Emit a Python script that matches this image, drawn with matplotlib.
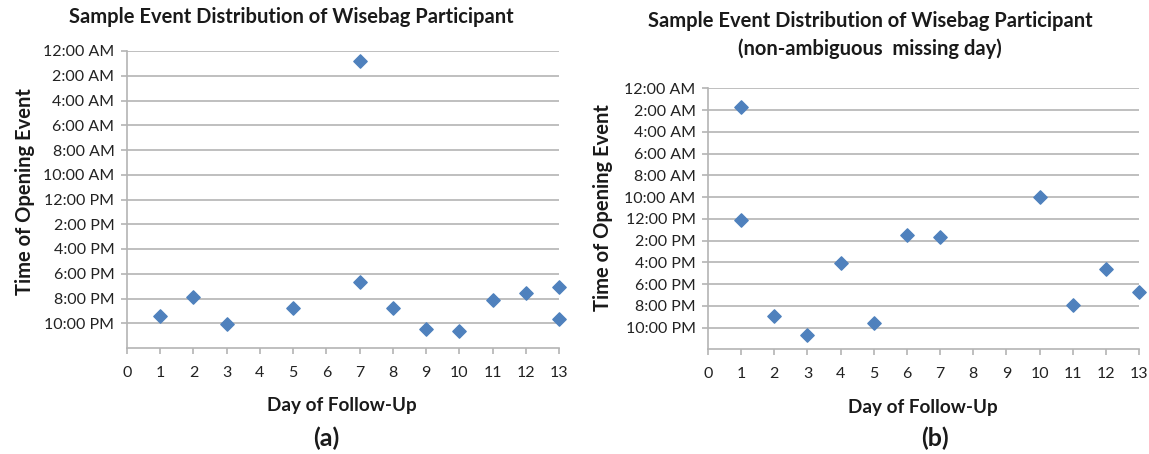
import matplotlib.pyplot as plt

plt.rcParams['font.family'] = ['Lato', 'DejaVu Sans']

# panel (a): day of follow-up and hour of opening event (0 = midnight)
days_a = [1, 2, 3, 5, 7, 7, 8, 9, 10, 11, 12, 13, 13]
hours_a = [21.4, 19.9, 22.1, 20.8, 0.8, 18.7, 20.75, 22.5, 22.6, 20.1, 19.55, 19.1, 21.65]

# panel (b): non-ambiguous missing day
days_b = [1, 1, 2, 3, 4, 5, 6, 7, 10, 11, 12, 13]
hours_b = [1.75, 12.15, 20.9, 22.7, 16.1, 21.6, 13.5, 13.65, 9.95, 19.9, 16.65, 18.75]

hour_ticks = list(range(0, 24, 2))
day_ticks = list(range(0, 14))

title_a = "Sample Event Distribution of Wisebag Participant"
title_b = "Sample Event Distribution of Wisebag Participant\n(non-ambiguous  missing day)"

marker_color = "#4F81BD"
grid_color = "#b4b4b4"


def hour_label(h):
    suffix = "AM" if h < 12 else "PM"
    hh = h % 12
    if hh == 0:
        hh = 12
    return f"{hh}:00 {suffix}"


def draw_panel(ax, days, hours):
    ax.scatter(days, hours, marker="D", s=46, color=marker_color, zorder=3, clip_on=False)
    ax.set_xlim(0, 13)
    ax.set_ylim(24, 0)
    ax.set_yticks(hour_ticks)
    ax.set_yticklabels([hour_label(h) for h in hour_ticks])
    ax.set_xticks(day_ticks)
    ax.grid(axis="y", color=grid_color, linewidth=1.2)
    ax.set_axisbelow(True)
    for s in ["top", "right"]:
        ax.spines[s].set_visible(False)
    for s in ["left", "bottom"]:
        ax.spines[s].set_color(grid_color)
        ax.spines[s].set_linewidth(1.2)
    ax.tick_params(axis="both", color=grid_color, width=1.2, length=4,
                   labelsize=11.5, labelcolor="#222222")
    ax.tick_params(axis="x", pad=9)
    ax.tick_params(axis="y", pad=5)


fig = plt.figure(figsize=(11.49, 4.54), dpi=100)
ax_a = fig.add_axes([127 / 1149, 1 - 348 / 454, (559 - 127) / 1149, (348 - 51) / 454])
ax_b = fig.add_axes([708 / 1149, 1 - 349.3 / 454, (1139 - 708) / 1149, (349.3 - 88.3) / 454])

draw_panel(ax_a, days_a, hours_a)
draw_panel(ax_b, days_b, hours_b)

bold = dict(fontweight="bold", color="#1a1a1a")
fig.text(291 / 1149, 1 - 17 / 454, title_a, ha="center", va="center", fontsize=14.5, **bold)
fig.text(870 / 1149, 1 - 35 / 454, title_b, ha="center", va="center", fontsize=14.5,
         linespacing=1.4, **bold)

fig.text(25 / 1149, 1 - 192 / 454, "Time of Opening Event", rotation=90,
         ha="center", va="center", fontsize=14.5, **bold)
fig.text(603 / 1149, 1 - 208 / 454, "Time of Opening Event", rotation=90,
         ha="center", va="center", fontsize=14.5, **bold)

fig.text(342 / 1149, 1 - 406 / 454, "Day of Follow-Up", ha="center", va="center", fontsize=13.6, **bold)
fig.text(923 / 1149, 1 - 408 / 454, "Day of Follow-Up", ha="center", va="center", fontsize=13.6, **bold)

fig.text(326 / 1149, 1 - 438 / 454, "(a)", ha="center", va="center", fontsize=18, **bold)
fig.text(935 / 1149, 1 - 438 / 454, "(b)", ha="center", va="center", fontsize=18, **bold)

fig.savefig("out.png", dpi=100)
